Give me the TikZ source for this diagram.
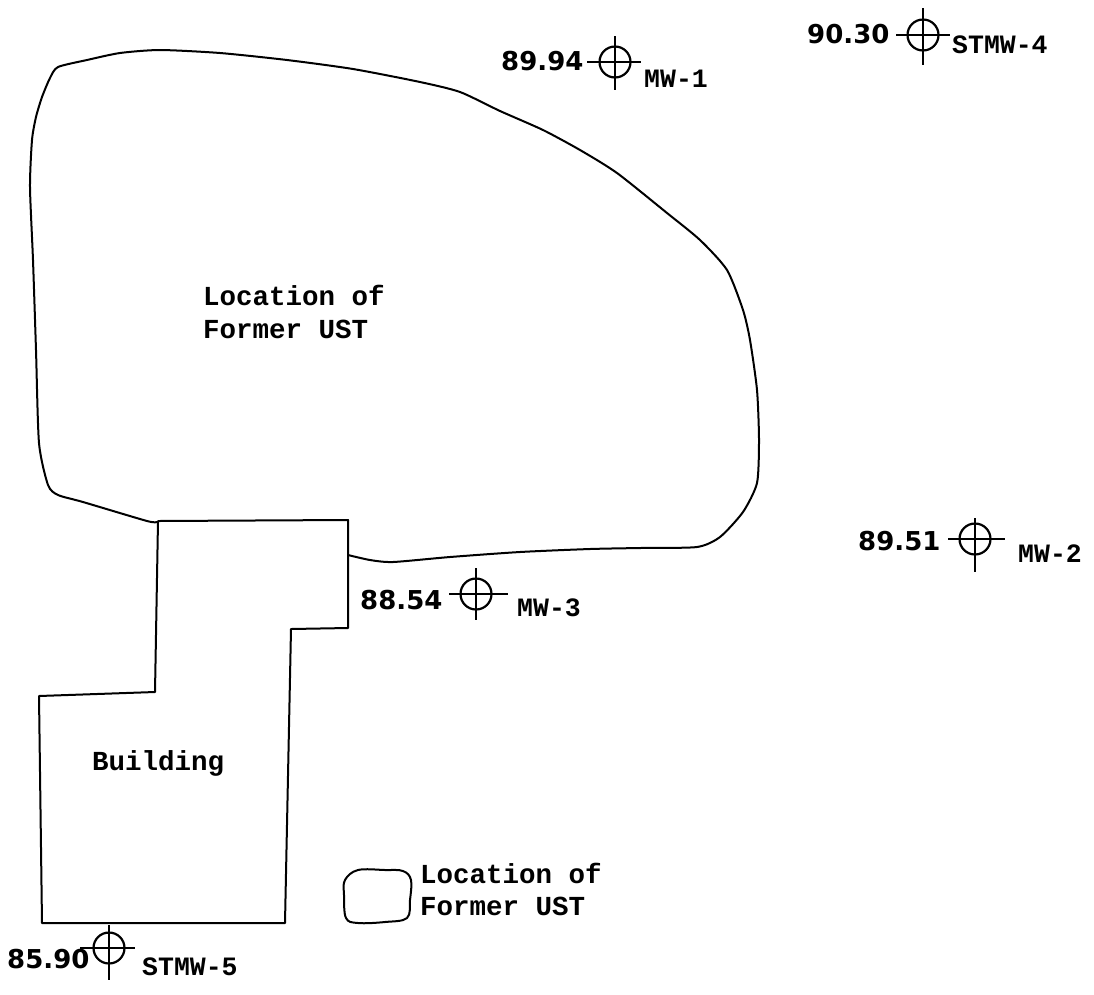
\documentclass[tikz,border=0pt]{standalone}
\usepackage{fontspec}
\setmainfont{Liberation Mono}
\newfontfamily\numfont{DejaVu Sans}
\begin{document}
\begin{tikzpicture}[x=1pt,y=-1pt,
  ln/.style={black,line width=2pt,line join=round},
  ww/.style={circle,draw=black,line width=2.2pt,minimum size=31pt,inner sep=0pt},
  lab/.style={font=\fontsize{27.5}{33}\selectfont\bfseries,anchor=base west,inner sep=0pt},
  num/.style={font=\fontsize{26}{30}\selectfont\numfont\bfseries,anchor=base west,inner sep=0pt},
  tag/.style={font=\fontsize{26.5}{30}\selectfont\bfseries,anchor=base west,inner sep=0pt}]
\useasboundingbox (0,0) rectangle (1094,994);
\fill[white] (0,0) rectangle (1094,994);
% UST outline
\draw[ln] plot[smooth,tension=0.4] coordinates {(157,522) (147,521) (83,502) (58,495) (48,485) (39,443) (36,350) (33,260) (30,187) (32,140) (36,117) (42,97) (50,78) (58,67) (87,60) (120,53) (160,50) (220,53) (287,60) (353,69) (420,82) (460,92) (500,111) (543,130) (580,150) (617,173) (667,213) (700,240) (727,270) (743,310) (750,340) (757,390) (759,440) (757,483) (743,512) (720,537) (697,547) (640,548) (590,549) (520,552) (450,557) (393,562) (370,560) (348,555)};
% Building
\draw[ln] (158,521) -- (348,520) -- (348,628) -- (291,629) -- (285,923) -- (42,923) -- (39,696) -- (155,692) -- cycle;
% Legend box
\draw[ln] plot[smooth cycle,tension=0.6] coordinates {(345,880) (358,870) (385,870) (403,871) (411,880) (410,900) (407,918) (385,922) (358,923) (346,918) (344,895)};
% wells: name, centre, horizontal span, vertical span, tag x, tag baseline, tag, number x, baseline, number
\foreach \n/\x/\y/\hl/\hr/\vt/\vb/\tx/\ty/\t/\nx/\ny/\v in {
 a/615/62/587/641/36/90/644/87/MW-1/501/70/89.94,
 b/923/35/896/950/8/65/952/53/STMW-4/807/43/90.30,
 c/975/539/948/1005/518/572/1018/562/MW-2/858/550/89.51,
 d/476/594/449/508/568/620/517/616/MW-3/360/609/88.54,
 e/109/948/80/135/925/980/142/975/STMW-5/7/968/85.90}{
  \node[ww] (w\n) at (\x,\y) {};
  \draw[ln] (\hl,\y) -- (\hr,\y);
  \draw[ln] (\x,\vt) -- (\x,\vb);
  \node[tag] (t\n) at (\tx,\ty) {\t};
  \node[num] (n\n) at (\nx,\ny) {\v};
}
\node[lab] (ust1) at (203,305) {Location of};
\node[lab] (ust2) at (203,338) {Former UST};
\node[lab] (bld) at (92,770) {Building};
\node[lab] (leg1) at (420,883) {Location of};
\node[lab] (leg2) at (420,915) {Former UST};
\end{tikzpicture}
\end{document}
